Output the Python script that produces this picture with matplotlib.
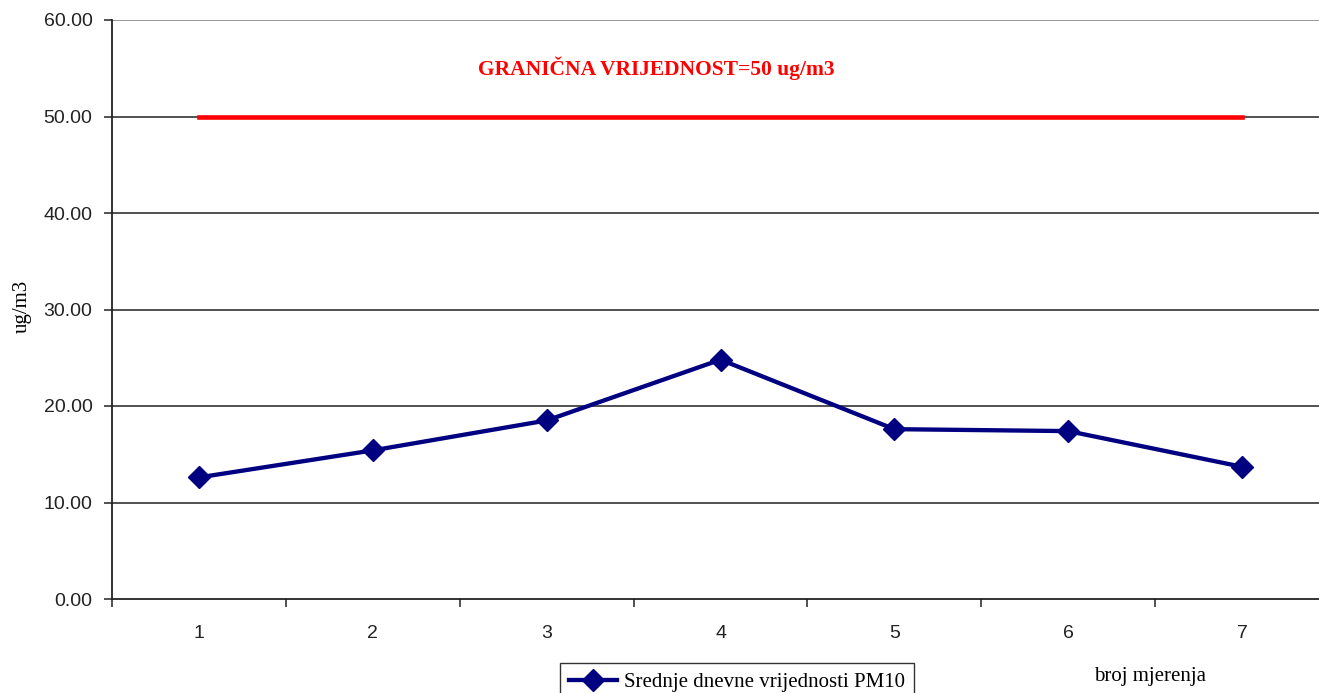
import matplotlib
matplotlib.use("Agg")
import matplotlib.pyplot as plt

# measurements (broj mjerenja) and daily mean PM10 values
mjerenja = [1, 2, 3, 4, 5, 6, 7]
pm10 = [12.6, 15.4, 18.5, 24.8, 17.6, 17.4, 13.7]
granica = [50, 50, 50, 50, 50, 50, 50]
y_ticks = [0, 10, 20, 30, 40, 50, 60]

fig = plt.figure(figsize=(13.19, 6.93), dpi=100)
ax = fig.add_axes([112 / 1319, 94 / 693, 1217 / 1319, 579 / 693])

# grid lines
for y in y_ticks[1:]:
    ax.axhline(y, color='#333333' if y < 60 else '#888888', lw=1.2, zorder=1)

# limit value line
ax.plot(mjerenja, granica, color='#ff0000', lw=3.3, solid_capstyle='projecting', zorder=2)
ax.text(3.63, 55, 'GRANIČNA VRIJEDNOST=50 ug/m3', color='#ff0000', fontsize=15.5,
        fontweight='bold', family='Liberation Serif', ha='center', va='center')

# PM10 series
ax.plot(mjerenja, pm10, color='#000080', lw=3.1, marker='D', markersize=11.5,
        label='Srednje dnevne vrijednosti PM10', zorder=3)

ax.set_xlim(0.5, 7.5)
ax.set_ylim(0, 60)
ax.set_yticks(y_ticks)
ax.set_yticklabels([f'{v:.2f}' for v in y_ticks], family='Liberation Sans', fontsize=14,
                   color='#222222')
ax.set_xticks([x + 0.5 for x in range(0, 7)])
ax.set_xticklabels([])
ax.set_xticks(mjerenja, minor=True)
ax.set_xticklabels([str(m) for m in mjerenja], minor=True, family='Liberation Sans',
                   fontsize=14, color='#222222')
ax.tick_params(axis='x', which='minor', length=0, pad=19)
ax.tick_params(axis='both', which='major', direction='out', length=6, width=1.2,
               color='#333333')
ax.tick_params(axis='y', pad=8)

for s in ['top', 'right']:
    ax.spines[s].set_visible(False)
for s in ['left', 'bottom']:
    ax.spines[s].set_color('#222222')
    ax.spines[s].set_linewidth(1.3)

ax.set_ylabel('ug/m3', family='Liberation Serif', fontsize=15)
ax.yaxis.set_label_coords(-0.066, 0.505)

fig.text(1150 / 1319, 1 - 676 / 693, 'broj mjerenja', family='Liberation Serif',
         fontsize=15, ha='center', va='center')

leg = ax.legend(loc='upper left', bbox_to_anchor=(560 / 1319, 30 / 693),
                bbox_transform=fig.transFigure, prop={'family': 'Liberation Serif', 'size': 15},
                frameon=True, fancybox=False, borderpad=0.45, handlelength=2.3,
                handletextpad=0.3, borderaxespad=0)
leg.get_frame().set_edgecolor('#000000')
leg.get_frame().set_linewidth(1.0)

fig.savefig('out.png', dpi=100)
